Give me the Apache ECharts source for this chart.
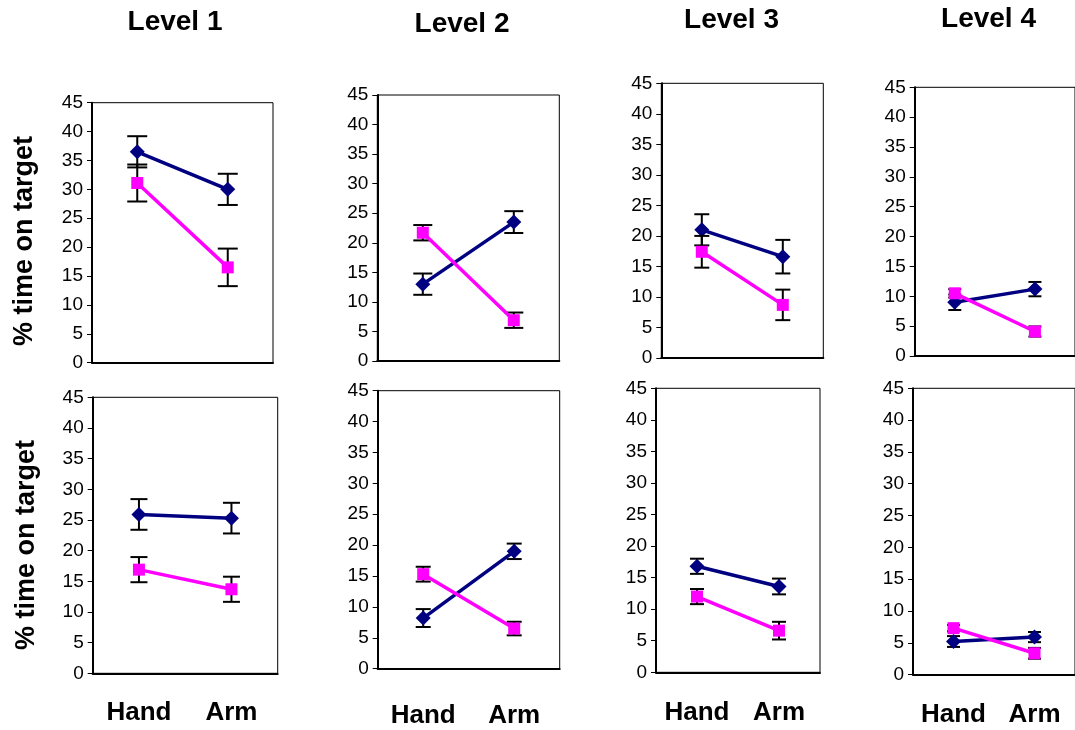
<!DOCTYPE html>
<html>
<head>
<meta charset="utf-8">
<script src="https://cdn.jsdelivr.net/npm/echarts@6/dist/echarts.min.js"></script>
<style>
  html, body { margin: 0; padding: 0; background: #fff; }
  #chart { width: 1075px; height: 730px; }
</style>
</head>
<body>
<div id="chart"></div>
<script>
// Categories, panel titles and axis text
const categories = ['Hand', 'Arm'];
const levelNames = ['Level 1', 'Level 2', 'Level 3', 'Level 4'];
const yAxisTitle = '% time on target';
const yMin = 0, yMax = 45, yStep = 5;

// Upper row: mean and error (±) per level, [Hand, Arm]
const navyUpper    = [[36.5, 30.0], [13.0, 23.5], [21.0, 16.6], [9.0, 11.2]];
const navyUpperErr = [[2.7, 2.7], [1.8, 1.85], [2.55, 2.75], [1.3, 1.2]];
const pinkUpper    = [[31.1, 16.5], [21.7, 6.9], [17.4, 8.7], [10.5, 4.1]];
const pinkUpperErr = [[3.2, 3.25], [1.3, 1.3], [2.6, 2.5], [0.7, 0.85]];

// Lower row: mean and error (±) per level, [Hand, Arm]
const navyLower    = [[25.9, 25.3], [8.2, 19.0], [16.8, 13.6], [5.2, 5.9]];
const navyLowerErr = [[2.5, 2.5], [1.45, 1.25], [1.2, 1.25], [0.85, 0.8]];
const pinkLower    = [[16.9, 13.7], [15.3, 6.5], [12.0, 6.6], [7.3, 3.35]];
const pinkLowerErr = [[2.05, 2.05], [1.2, 1.1], [1.2, 1.4], [0.5, 0.85]];

// Plot-area placement of each of the eight small charts
const panels = [
  { left: 92,    top: 102.7, width: 181,   height: 260,   cap: 20, labelMargin: 0 },
  { left: 377.3, top: 95,    width: 182,   height: 266,   cap: 19, labelMargin: 0 },
  { left: 661.3, top: 83.3,  width: 162,   height: 274.7, cap: 15, labelMargin: 0 },
  { left: 914.7, top: 87.3,  width: 166.7, height: 268.7, cap: 13, labelMargin: 0 },
  { left: 92.7,  top: 397.3, width: 185,   height: 276,   cap: 17, labelMargin: 27 },
  { left: 377.7, top: 390.7, width: 182,   height: 278,   cap: 15, labelMargin: 34 },
  { left: 656,   top: 388.3, width: 164,   height: 284,   cap: 14, labelMargin: 28 },
  { left: 913,   top: 388.3, width: 170.7, height: 286.3, cap: 13, labelMargin: 27 }
];

const titlePos = [[175, 22.5], [462, 24], [731.5, 20.5], [988.5, 19]];
const yTitlePos = [[25, 241], [27, 545]];

const NAVY = '#000080';
const PINK = '#FF00FF';
const FONT = 'Liberation Sans, Arial, sans-serif';

function errorBarSeries(gridIdx, means, errs, capWidth, z) {
  return {
    type: 'custom',
    xAxisIndex: gridIdx,
    yAxisIndex: gridIdx,
    z: z,
    silent: true,
    data: means.map((m, i) => [i, m - errs[i], m + errs[i]]),
    renderItem: function (params, api) {
      const lo = api.coord([api.value(0), api.value(1)]);
      const hi = api.coord([api.value(0), api.value(2)]);
      const h = capWidth / 2;
      const style = { stroke: '#000', lineWidth: 2 };
      return {
        type: 'group',
        children: [
          { type: 'line', shape: { x1: lo[0], y1: lo[1], x2: hi[0], y2: hi[1] }, style: style },
          { type: 'line', shape: { x1: hi[0] - h, y1: hi[1], x2: hi[0] + h, y2: hi[1] }, style: style },
          { type: 'line', shape: { x1: lo[0] - h, y1: lo[1], x2: lo[0] + h, y2: lo[1] }, style: style }
        ]
      };
    }
  };
}

const grids = [], xAxes = [], yAxes = [], series = [];

panels.forEach((p, idx) => {
  const lower = idx >= 4;
  const lvl = idx % 4;
  const navy = lower ? navyLower[lvl] : navyUpper[lvl];
  const navyErr = lower ? navyLowerErr[lvl] : navyUpperErr[lvl];
  const pink = lower ? pinkLower[lvl] : pinkUpper[lvl];
  const pinkErr = lower ? pinkLowerErr[lvl] : pinkUpperErr[lvl];

  grids.push({
    left: p.left, top: p.top, width: p.width, height: p.height,
    show: true, borderColor: '#000', borderWidth: 1, backgroundColor: 'transparent'
  });
  xAxes.push({
    type: 'category', gridIndex: idx, data: categories, boundaryGap: true,
    axisLine: { lineStyle: { color: '#000', width: 2 } },
    axisTick: { show: false },
    axisLabel: {
      show: lower, interval: 0, hideOverlap: false, margin: p.labelMargin, color: '#000',
      fontFamily: FONT, fontSize: 26, fontWeight: 'bold'
    },
    splitLine: { show: false }
  });
  yAxes.push({
    type: 'value', gridIndex: idx, min: yMin, max: yMax, interval: yStep,
    axisLine: { show: true, lineStyle: { color: '#000', width: 2 } },
    axisTick: { show: true, inside: false, length: 5, lineStyle: { color: '#000', width: 1 } },
    axisLabel: { color: '#000', fontFamily: FONT, fontSize: 19, margin: 9 },
    splitLine: { show: false }
  });

  series.push(errorBarSeries(idx, navy, navyErr, p.cap, 1));
  series.push({
    type: 'line', xAxisIndex: idx, yAxisIndex: idx, data: navy, z: 2,
    symbol: 'diamond', symbolSize: 15, showSymbol: true,
    itemStyle: { color: NAVY }, lineStyle: { color: NAVY, width: 3.5 }
  });
  series.push(errorBarSeries(idx, pink, pinkErr, p.cap, 3));
  series.push({
    type: 'line', xAxisIndex: idx, yAxisIndex: idx, data: pink, z: 4,
    symbol: 'rect', symbolSize: 12, showSymbol: true,
    itemStyle: { color: PINK }, lineStyle: { color: PINK, width: 3.5 }
  });
});

const graphics = [];
levelNames.forEach((name, i) => {
  graphics.push({
    type: 'text', x: titlePos[i][0], y: titlePos[i][1],
    style: {
      text: name, fill: '#000', font: 'bold 28px ' + FONT,
      align: 'center', verticalAlign: 'middle'
    }
  });
});
yTitlePos.forEach(pos => {
  graphics.push({
    type: 'text', x: pos[0], y: pos[1], rotation: Math.PI / 2,
    style: {
      text: yAxisTitle, fill: '#000', font: 'bold 27px ' + FONT,
      align: 'center', verticalAlign: 'middle'
    }
  });
});

const chart = echarts.init(document.getElementById('chart'), null, { renderer: 'canvas' });
chart.setOption({
  animation: false,
  backgroundColor: '#fff',
  grid: grids,
  xAxis: xAxes,
  yAxis: yAxes,
  series: series,
  graphic: graphics
});
</script>
</body>
</html>
